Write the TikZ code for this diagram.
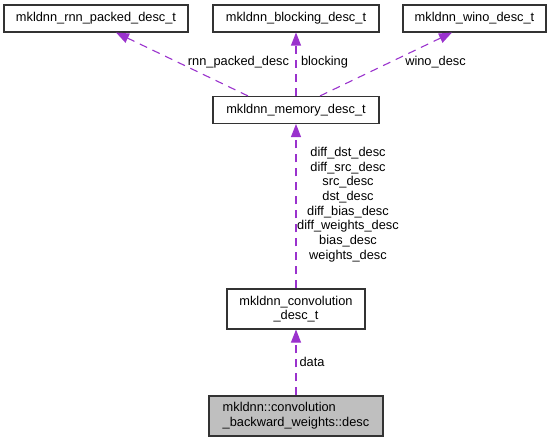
\documentclass[tikz,border=0pt]{standalone}
\usepackage{fontspec}
\setmainfont{Liberation Sans}
\usetikzlibrary{arrows.meta}
\definecolor{usecol}{HTML}{9A32CD}
\definecolor{boxgray}{HTML}{BFBFBF}
\begin{document}
\begin{tikzpicture}[x=1bp,y=-1bp,
		every node/.style={font=\fontsize{12.8bp}{14.7bp}\selectfont},
		cls/.style={draw=black!80,line width=1.1bp,inner sep=0pt,minimum height=27bp,align=center},
		usage/.style={draw=usecol,line width=1.1bp,dash pattern=on 8bp off 6bp,-{Triangle[length=13bp,width=10bp]}},
		lbl/.style={inner sep=0pt,align=center}]
	\useasboundingbox (0,0) rectangle (552,443);
	% classes
	\node[cls,minimum width=184bp] (rnnpacked) at (96,18.5) {mkldnn\_rnn\_packed\_desc\_t};
	\node[cls,minimum width=166bp] (blocking) at (296,18.5) {mkldnn\_blocking\_desc\_t};
	\node[cls,minimum width=143bp] (wino) at (474.5,18.5) {mkldnn\_wino\_desc\_t};
	\node[cls,minimum width=166bp] (memdesc) at (296,110) {mkldnn\_memory\_desc\_t};
	\node[cls,minimum width=138bp,minimum height=40bp] (convdesc) at (296,309) {mkldnn\_convolution\\\_desc\_t};
	\node[cls,fill=boxgray,align=left,minimum width=174bp,minimum height=40bp] (bwdwdesc) at (296,416) {mkldnn::convolution\\\_backward\_weights::desc};
	% usage edges
	\draw[usage] ([xshift=-48bp]memdesc.north) -- ([xshift=20bp]rnnpacked.south);
	\draw[usage] (memdesc.north) -- (blocking.south);
	\draw[usage] ([xshift=24bp]memdesc.north) -- ([xshift=-22.5bp]wino.south);
	\draw[usage] (convdesc.north) -- (memdesc.south);
	\draw[usage] (bwdwdesc.north) -- (convdesc.south);
	% labels
	\node[lbl] (rnnlbl) at (238.5,62) {rnn\_packed\_desc};
	\node[lbl] (blocklbl) at (324.5,62) {blocking};
	\node[lbl] (winolbl) at (435.5,62) {wino\_desc};
	\node[lbl] (desclbl) at (348,204.5) {diff\_dst\_desc\\diff\_src\_desc\\src\_desc\\dst\_desc\\diff\_bias\_desc\\diff\_weights\_desc\\bias\_desc\\weights\_desc};
	\node[lbl] (datalbl) at (312,362) {data};
\end{tikzpicture}
\end{document}
